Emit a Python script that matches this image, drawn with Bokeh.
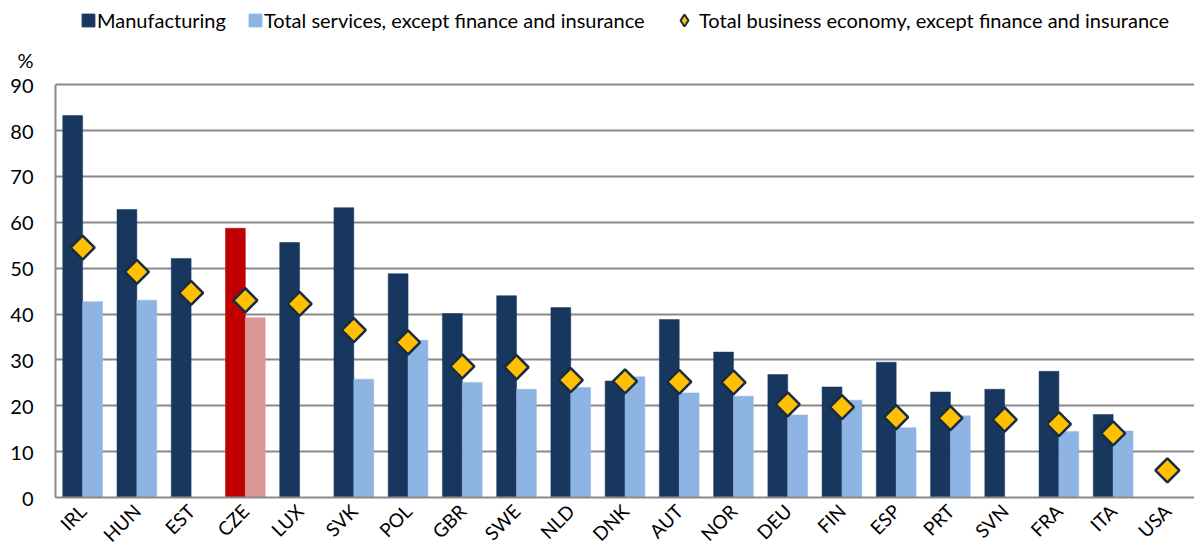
import numpy as np
from bokeh.plotting import figure
from bokeh.models import (ColumnDataSource, FactorRange, Legend, LegendItem, LinearAxis,
                          FixedTicker, Range1d)
from bokeh.transform import dodge
from bokeh.embed import file_html
from bokeh.resources import INLINE

countries = ["IRL", "HUN", "EST", "CZE", "LUX", "SVK", "POL", "GBR", "SWE", "NLD", "DNK",
             "AUT", "NOR", "DEU", "FIN", "ESP", "PRT", "SVN", "FRA", "ITA", "USA"]
manufacturing = [83.3, 62.8, 52.1, 58.7, 55.6, 63.2, 48.8, 40.1, 44.0, 41.4, 25.4,
                 38.8, 31.7, 26.8, 24.1, 29.5, 23.0, 23.6, 27.5, 18.1, None]
services = [42.7, 43.0, None, 39.2, None, 25.8, 34.3, 25.1, 23.6, 24.0, 26.3,
            22.8, 22.1, 18.0, 21.2, 15.2, 17.8, None, 14.4, 14.5, None]
total = [54.5, 49.2, 44.6, 43.0, 42.2, 36.5, 33.8, 28.6, 28.4, 25.6, 25.3,
         25.2, 25.1, 20.3, 19.7, 17.5, 17.3, 17.0, 16.0, 14.0, 5.9]
highlight = "CZE"
y_ticks = [0, 10, 20, 30, 40, 50, 60, 70, 80, 90]
unit_label = "%"

NAVY = "#17375E"
LIGHT = "#8EB4E3"
RED = "#C00000"
PINK = "#D99694"
GOLD = "#FFC000"
EDGE = "#1A2B45"
GRID = "#898989"
FONT = "Lato"

m_src = ColumnDataSource(dict(
    c=[c for c, v in zip(countries, manufacturing) if v is not None],
    v=[v for v in manufacturing if v is not None],
    col=[RED if c == highlight else NAVY for c, v in zip(countries, manufacturing) if v is not None]))
s_src = ColumnDataSource(dict(
    c=[c for c, v in zip(countries, services) if v is not None],
    v=[v for v in services if v is not None],
    col=[PINK if c == highlight else LIGHT for c, v in zip(countries, services) if v is not None]))
t_src = ColumnDataSource(dict(c=countries, v=total))

# frame covers the full height; the space above 90 holds the legend
p = figure(x_range=FactorRange(*countries, range_padding=0), y_range=Range1d(0, 108.36),
           width=1194, height=557, output_backend="svg", toolbar_location=None,
           min_border_left=55, min_border_right=0, min_border_top=0, min_border_bottom=60)
p.outline_line_color = None

p.vbar(x=dodge("c", -0.183, range=p.x_range), top="v", width=0.366, source=m_src,
       fill_color="col", line_color="col", line_width=0.5)
p.vbar(x=dodge("c", 0.183, range=p.x_range), top="v", width=0.366, source=s_src,
       fill_color="col", line_color="col", line_width=0.5)
p.scatter(x="c", y="v", source=t_src, marker="square", angle=np.pi / 4, size=17,
          fill_color=GOLD, line_color=EDGE, line_width=2.5)

# legend proxies (uniform colours, outside the visible y range)
l1 = p.vbar(x=["IRL"], top=[-50], bottom=[-60], width=0.1, fill_color=NAVY, line_color=NAVY)
l2 = p.vbar(x=["IRL"], top=[-50], bottom=[-60], width=0.1, fill_color=LIGHT, line_color=LIGHT)
l3 = p.scatter(x=["IRL"], y=[-100], marker="diamond", size=16,
               fill_color=GOLD, line_color=EDGE, line_width=2)

legend1 = Legend(items=[
    LegendItem(label="Manufacturing", renderers=[l1]),
    LegendItem(label="Total services, except finance and insurance", renderers=[l2]),
], orientation="horizontal", location=(25, 465), border_line_color=None,
    background_fill_alpha=0, label_text_font=FONT, label_text_font_size="20px",
    label_text_color="#000000", glyph_width=16, glyph_height=16, spacing=21,
    label_standoff=1, padding=0, margin=0)
legend2 = Legend(items=[
    LegendItem(label="Total business economy, except finance and insurance", renderers=[l3]),
], orientation="horizontal", location=(614, 462), border_line_color=None,
    background_fill_alpha=0, label_text_font=FONT, label_text_font_size="20px",
    label_text_color="#000000", glyph_width=30, glyph_height=30,
    label_standoff=-3, padding=0, margin=0)
p.add_layout(legend1)
p.add_layout(legend2)

p.xgrid.grid_line_color = None
p.ygrid.ticker = FixedTicker(ticks=y_ticks)
p.ygrid.grid_line_color = GRID
p.ygrid.grid_line_width = 2

# inner left axis: only the axis line from 0 to 90
ax_line = p.yaxis[0]
ax_line.ticker = FixedTicker(ticks=[])
ax_line.bounds = (0, 90)
ax_line.axis_line_color = GRID
ax_line.axis_line_width = 2
ax_line.major_tick_out = 0
ax_line.major_tick_in = 0
ax_line.minor_tick_out = 0
ax_line.minor_tick_in = 0
ax_line.minor_tick_line_color = None
ax_line.major_tick_line_color = None
ax_line.major_label_standoff = 0

# outer left axis: tick labels and the unit label above 90
unit_pos = 95.3
overrides = {t: str(t) for t in y_ticks}
overrides[unit_pos] = unit_label
ax_lab = LinearAxis(ticker=FixedTicker(ticks=y_ticks + [unit_pos]),
                    major_label_overrides=overrides,
                    axis_line_color=None, major_tick_line_color=None,
                    minor_tick_line_color=None, major_tick_out=0, major_tick_in=0,
                    minor_tick_out=0, minor_tick_in=0,
                    major_label_text_font=FONT, major_label_text_font_size="20px",
                    major_label_text_color="#000000", major_label_standoff=22)
p.add_layout(ax_lab, "left")

p.xaxis.axis_line_color = GRID
p.xaxis.axis_line_width = 2
p.xaxis.major_tick_line_color = None
p.xaxis.minor_tick_line_color = None
p.xaxis.major_label_orientation = np.pi / 4
p.xaxis.major_label_text_font = FONT
p.xaxis.major_label_text_font_size = "19px"
p.xaxis.major_label_text_color = "#000000"
p.xaxis.major_label_standoff = 4

open("out.html", "w").write(file_html(p, INLINE))
